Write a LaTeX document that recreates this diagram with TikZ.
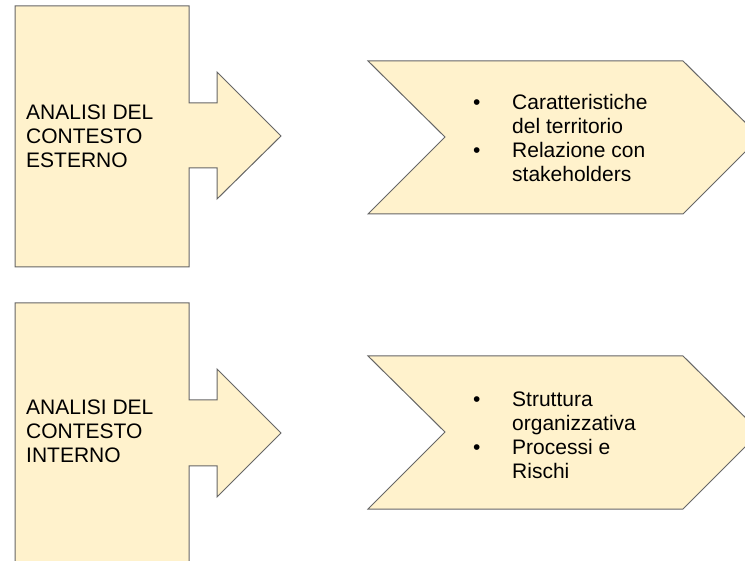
\documentclass[tikz,border=0pt]{standalone}
\usepackage{fontspec}
\setmainfont{Liberation Sans}
\usetikzlibrary{positioning}
\definecolor{boxfill}{HTML}{FFF2CC}
\definecolor{boxline}{HTML}{666666}

\begin{document}
\begin{tikzpicture}[x=1pt,y=-1pt,
    shapebox/.style={draw=boxline,fill=boxfill,line width=1pt,line join=miter},
    title/.style={inner sep=0pt,anchor=west,align=left,font=\fontsize{21}{24}\selectfont},
    points/.style={inner sep=0pt,anchor=west,font=\fontsize{21}{24}\selectfont}]
        \path[use as bounding box,clip] (0,0) rectangle (745,561);
        % upper row
        \draw[shapebox] (15,6) -- (189,6) -- (189,103) -- (217,103) -- (217,72) -- (281,136)
            -- (217,199) -- (217,168) -- (189,168) -- (189,267) -- (15,267) -- cycle;
        \draw[shapebox] (368,61) -- (683,61) -- (760,137) -- (683,214) -- (368,214) -- (445,137) -- cycle;
        \node[title] (esterno) at (26,136) {ANALISI DEL\\CONTESTO\\ESTERNO};
        \node[points] (esternolist) at (473,141) {\begin{tabular}{@{}p{39pt}@{}l@{}}
            \textbullet & Caratteristiche\\ & del territorio\\
            \textbullet & Relazione con\\ & stakeholders\end{tabular}};
        % lower row
        \draw[shapebox] (15,303) -- (189,303) -- (189,400) -- (217,400) -- (217,369) -- (281,433)
            -- (217,497) -- (217,466) -- (189,466) -- (189,575) -- (15,575) -- cycle;
        \draw[shapebox] (368,356) -- (683,356) -- (760,432) -- (683,509) -- (368,509) -- (445,432) -- cycle;
        \node[title] (interno) at (26,431) {ANALISI DEL\\CONTESTO\\INTERNO};
        \node[points] (internolist) at (473,438) {\begin{tabular}{@{}p{39pt}@{}l@{}}
            \textbullet & Struttura\\ & organizzativa\\
            \textbullet & Processi e\\ & Rischi\end{tabular}};
    \end{tikzpicture}
\end{document}
